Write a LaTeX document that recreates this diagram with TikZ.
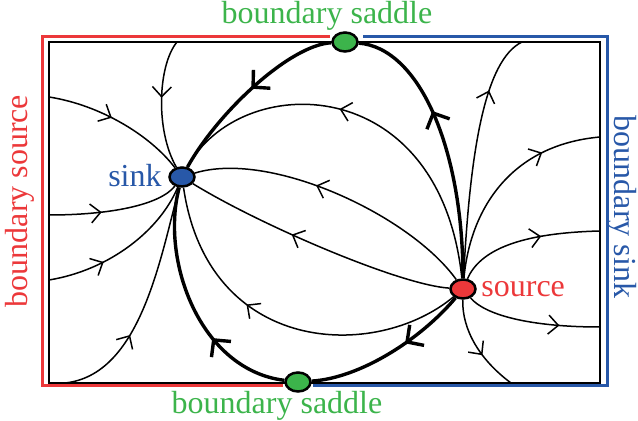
\documentclass[tikz,border=0pt]{standalone}
\usepackage{fontspec}
\setmainfont{Liberation Serif}
\usepackage{xcolor}
\usepackage{tikz}
\usetikzlibrary{shapes.geometric, arrows.meta, decorations.markings}
\definecolor{bred}{RGB}{236,56,58}
\definecolor{bgreen}{RGB}{60,180,75}
\definecolor{bblue}{RGB}{40,88,168}

\begin{document}
\begin{tikzpicture}[x=0.5pt, y=-0.5pt,
    eqpt/.style={ellipse, draw, line width=1.25pt, minimum width=12.5pt, minimum height=9.5pt, inner sep=0pt},
    lbl/.style={font=\fontsize{16}{19}\selectfont, inner sep=0pt},
    orb/.style={line width=0.75pt, postaction={decorate}, decoration={markings,
        mark=at position #1 with {\arrow{Straight Barb[length=5pt, width=9.5pt]}}}},
    sep/.style={line width=1.7pt, postaction={decorate}, decoration={markings,
        mark=at position #1 with {\arrow{Straight Barb[length=6pt, width=12.5pt]}}}}]
    \useasboundingbox (0,0) rectangle (638,421);

    % 1. Khung và biên
    \draw[line width=0.75pt] (49,42) rectangle (600,383);
    \draw[bred, line width=1.5pt] (330,37) -- (42,37) -- (42,386) -- (283,386);
    \draw[bblue, line width=1.5pt] (363,37) -- (607,37) -- (607,386) -- (313,386);

    % 2. Các điểm cân bằng
    \node[eqpt, fill=bblue] (sink) at (182,177) {};
    \node[eqpt, fill=bred] (source) at (463,289) {};
    \node[eqpt, fill=bgreen] (topsad) at (345,42) {};
    \node[eqpt, fill=bgreen] (botsad) at (298,382) {};

    % 3. Các điểm trên biên
    \coordinate (t1) at (177,42);
    \coordinate (l1) at (49,97);
    \coordinate (l2) at (49,215);
    \coordinate (l3) at (49,280);
    \coordinate (b1) at (65,383);
    \coordinate (t2) at (522,42);
    \coordinate (r1) at (600,137);
    \coordinate (r2) at (600,231);
    \coordinate (r3) at (600,327);
    \coordinate (b2) at (511,383);

    % 4. Đường tách (separatrix)
    \draw[sep=0.62] (source) .. controls (463,150) and (420,48) .. (topsad);
    \draw[sep=0.48] (topsad) .. controls (290,45) and (218,112) .. (sink);
    \draw[sep=0.4] (source) .. controls (420,340) and (360,378) .. (botsad);
    \draw[sep=0.35] (botsad) .. controls (200,370) and (160,260) .. (sink);

    % 5. Quỹ đạo về sink
    \draw[orb=0.45] (t1) .. controls (158,65) and (155,130) .. (sink);
    \draw[orb=0.45] (l1) .. controls (100,105) and (150,135) .. (sink);
    \draw[orb=0.4] (l2) .. controls (110,215) and (160,205) .. (sink);
    \draw[orb=0.35] (l3) .. controls (110,270) and (160,230) .. (sink);
    \draw[orb=0.35] (b1) .. controls (140,375) and (160,260) .. (sink);

    % 6. Quỹ đạo từ source về sink
    \draw[orb=0.6] (source) .. controls (400,285) and (260,225) .. (sink);
    \draw[orb=0.56] (source) .. controls (440,70) and (240,70) .. (sink);
    \draw[orb=0.58] (source) .. controls (410,215) and (270,150) .. (sink);
    \draw[orb=0.62] (source) .. controls (375,362) and (208,355) .. (sink);

    % 7. Quỹ đạo từ source ra biên
    \draw[orb=0.76] (source) .. controls (470,150) and (485,60) .. (t2);
    \draw[orb=0.72] (source) .. controls (470,210) and (510,145) .. (r1);
    \draw[orb=0.6] (source) .. controls (480,250) and (520,233) .. (r2);
    \draw[orb=0.7] (source) .. controls (485,315) and (530,327) .. (r3);
    \draw[orb=0.6] (source) .. controls (462,330) and (480,360) .. (b2);

    % 8. Nhãn
    \node[lbl, text=bgreen] (lbltop) at (327,16) {boundary saddle};
    \node[lbl, text=bgreen] (lblbot) at (277,406) {boundary saddle};
    \node[lbl, text=bblue, anchor=east] (lblsink) at (162,176) {sink};
    \node[lbl, text=bred, anchor=west] (lblsource) at (481,289) {source};
    \node[lbl, text=bred, rotate=90] (lblbsrc) at (20,201) {boundary source};
    \node[lbl, text=bblue, rotate=-90] (lblbsink) at (622,207) {boundary sink};
\end{tikzpicture}
\end{document}
